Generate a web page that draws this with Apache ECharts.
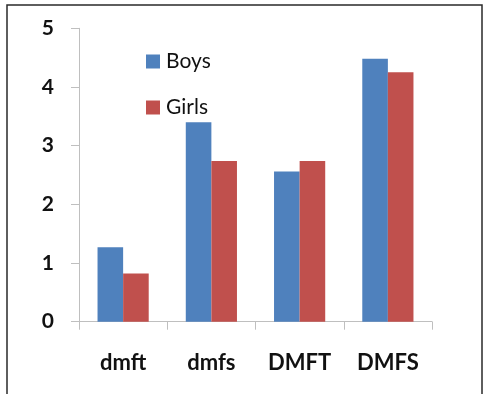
<!DOCTYPE html>
<html>
<head>
<meta charset="utf-8">
<script src="https://cdn.jsdelivr.net/npm/echarts@6/dist/echarts.min.js"></script>
<style>
  html, body { margin: 0; padding: 0; background: #fff; }
  #chart { width: 483px; height: 394px; }
</style>
</head>
<body>
<div id="chart"></div>
<script>
// Mean caries indices by sex
const categories = ['dmft', 'dmfs', 'DMFT', 'DMFS'];
const boys = [1.27, 3.40, 2.56, 4.48];
const girls = [0.82, 2.74, 2.74, 4.25];
const yTicks = [0, 1, 2, 3, 4, 5];

const chart = echarts.init(document.getElementById('chart'), null, { renderer: 'canvas' });

const fontFamily = 'Lato, "Open Sans", "Liberation Sans", sans-serif';
const axisGrey = '#bfbfbf';

chart.setOption({
  animation: false,
  backgroundColor: '#ffffff',
  graphic: [{
    type: 'rect',
    shape: { x: 7, y: 5, width: 475, height: 420 },
    style: { fill: 'none', stroke: '#2a2a2a', lineWidth: 1.5 },
    silent: true
  }],
  legend: {
    orient: 'vertical',
    left: 141,
    top: 46,
    itemWidth: 14,
    itemHeight: 14,
    itemGap: 25,
    icon: 'rect',
    textStyle: { fontFamily: fontFamily, fontSize: 21, color: '#111', padding: [0, 0, 0, 1] },
    data: ['Boys', 'Girls']
  },
  grid: { left: 79, right: 51, top: 28.3, bottom: 72.3, containLabel: false },
  xAxis: {
    type: 'category',
    data: categories,
    axisLine: { lineStyle: { color: axisGrey, width: 1 } },
    axisTick: { show: true, length: 8, lineStyle: { color: axisGrey } },
    axisLabel: { margin: 30, fontFamily: fontFamily, fontWeight: 'bold', fontSize: 22, color: '#111' }
  },
  yAxis: {
    type: 'value',
    min: yTicks[0],
    max: yTicks[yTicks.length - 1],
    interval: 1,
    axisLine: { show: true, lineStyle: { color: axisGrey, width: 1 } },
    axisTick: { show: true, length: 8, lineStyle: { color: axisGrey } },
    splitLine: { show: false },
    axisLabel: { margin: 25, fontFamily: fontFamily, fontWeight: 'bold', fontSize: 21, color: '#111' }
  },
  series: [
    {
      name: 'Boys',
      type: 'bar',
      data: boys,
      barGap: '0%',
      barCategoryGap: '42%',
      itemStyle: { color: '#4F81BD' }
    },
    {
      name: 'Girls',
      type: 'bar',
      data: girls,
      itemStyle: { color: '#C0504D' }
    }
  ]
});
</script>
</body>
</html>
